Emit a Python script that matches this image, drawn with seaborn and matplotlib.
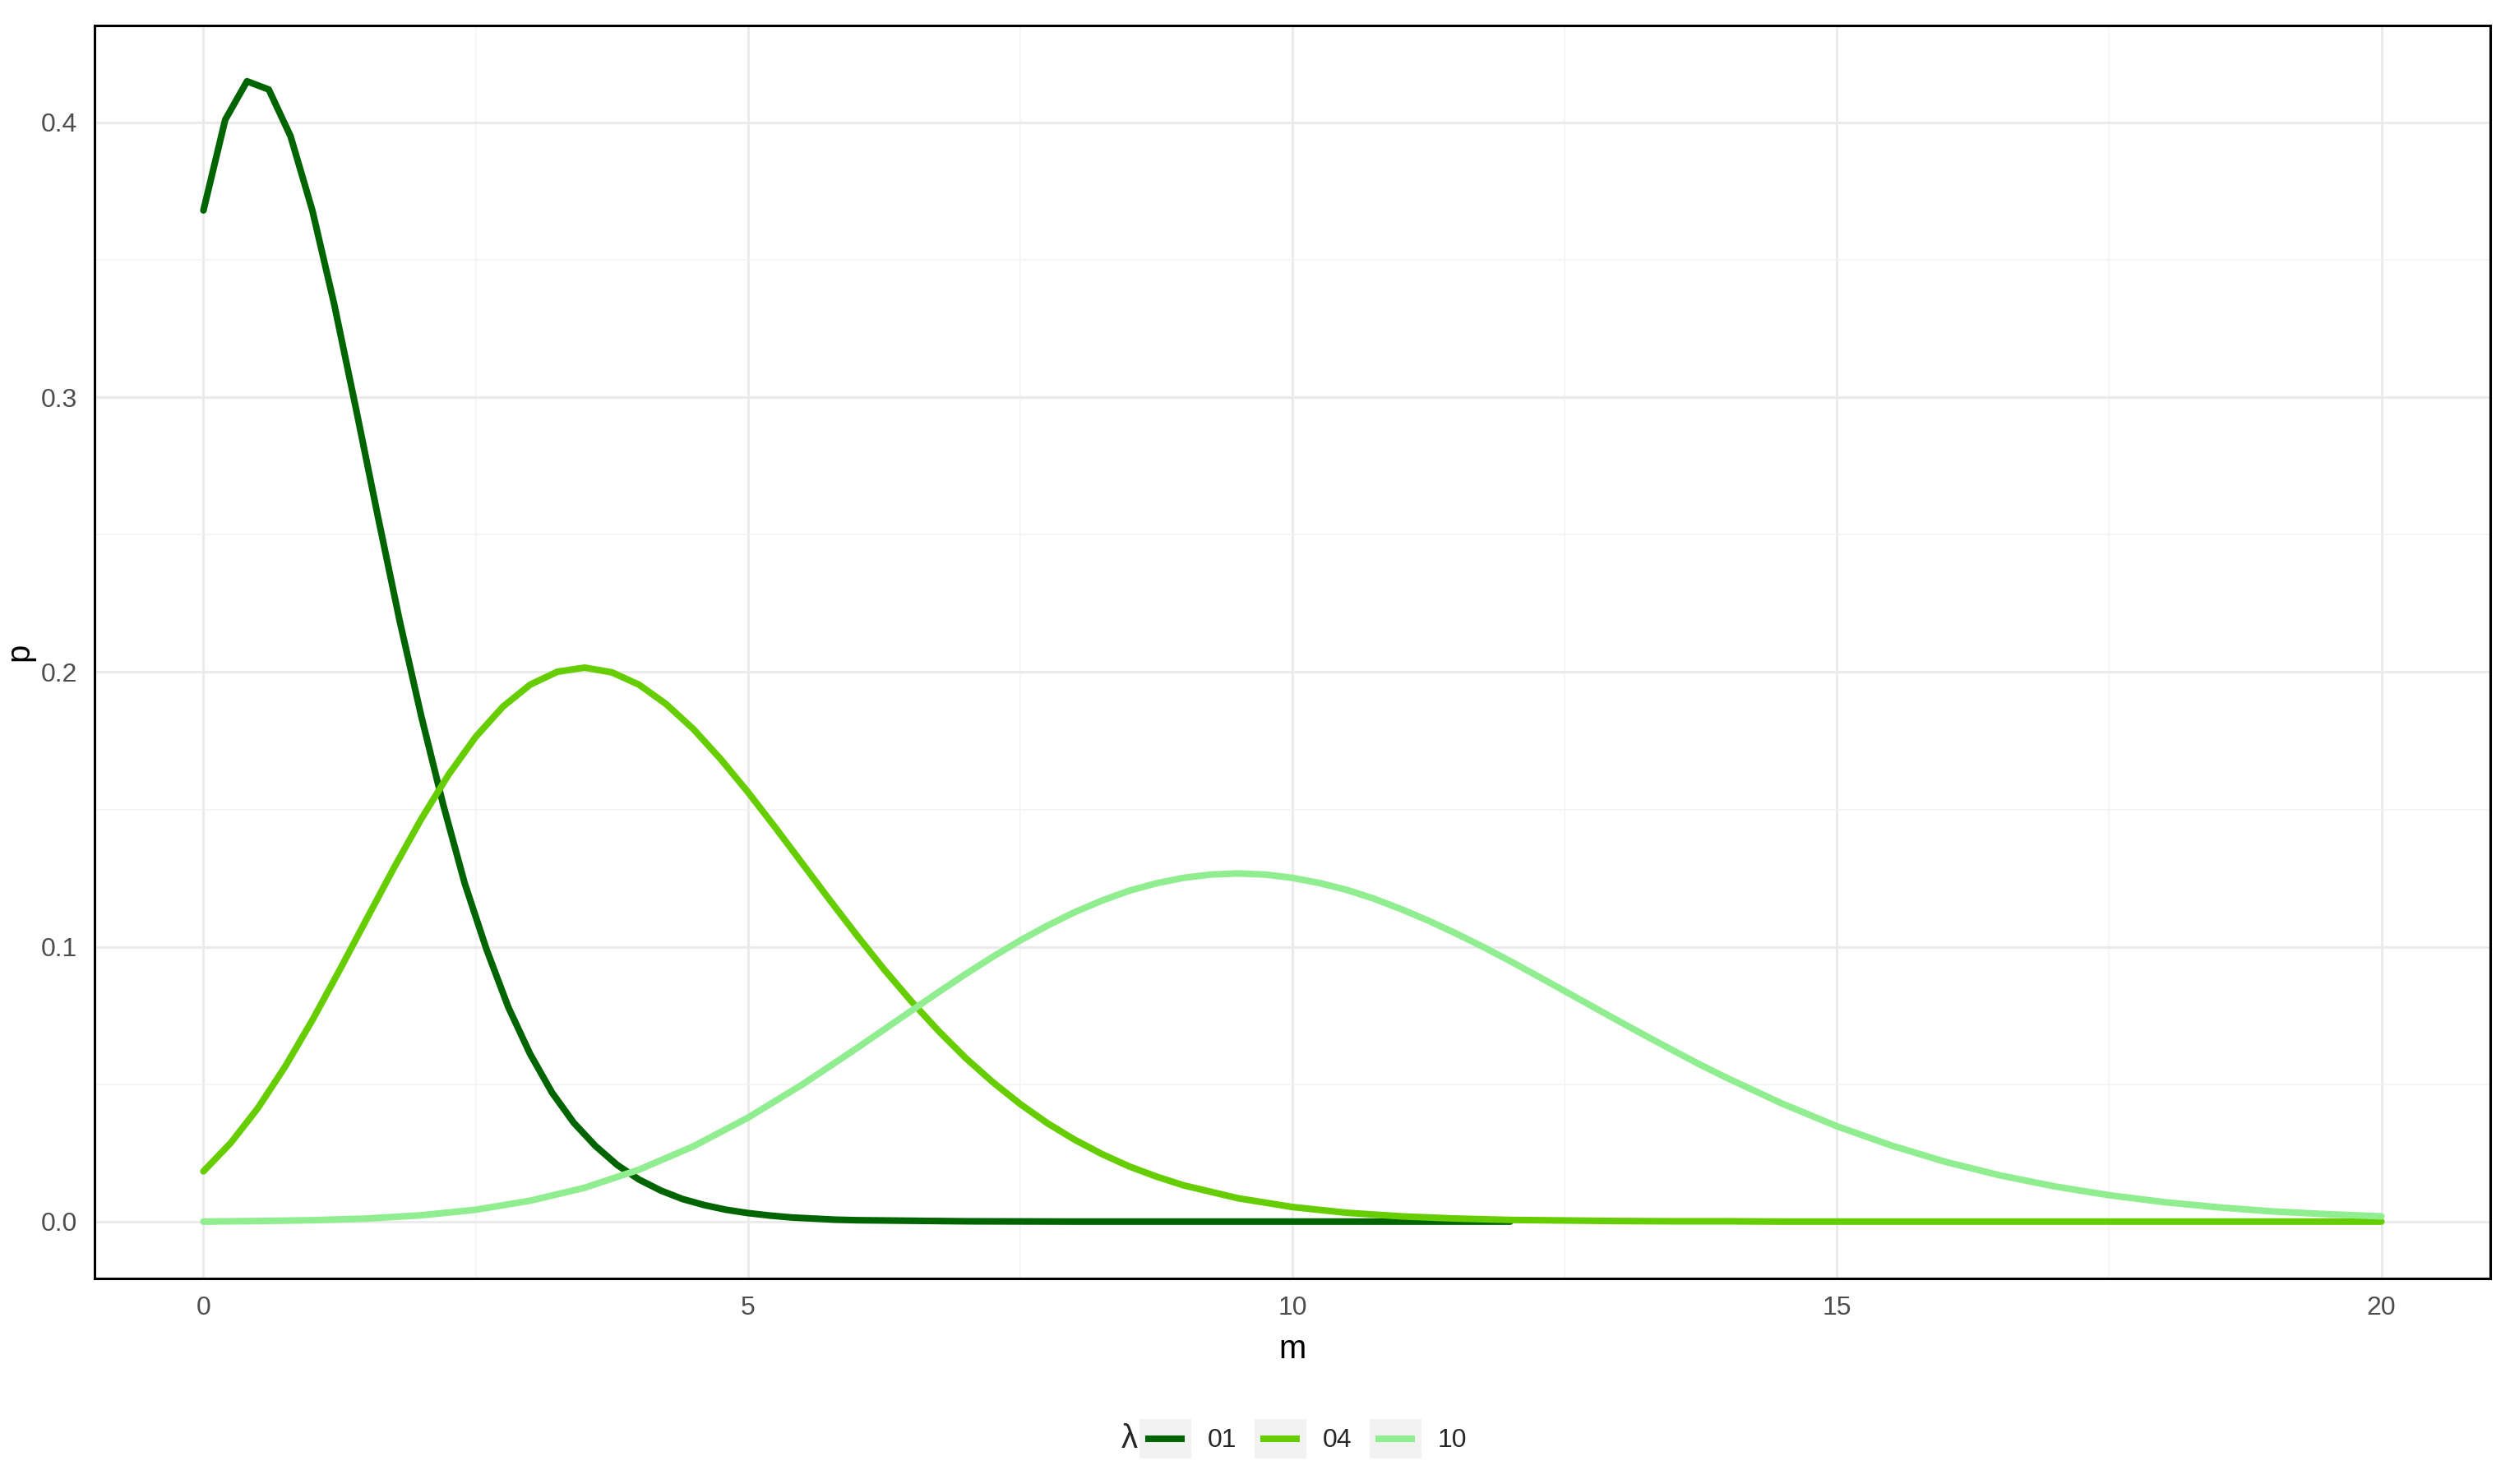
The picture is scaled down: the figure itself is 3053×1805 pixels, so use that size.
import numpy as np
import pandas as pd
import matplotlib
matplotlib.use("Agg")
import matplotlib.pyplot as plt
from matplotlib.lines import Line2D
from matplotlib.patches import Rectangle
from matplotlib.ticker import MultipleLocator
import seaborn as sns

# === Data ===
m_01 = [0, 0.2, 0.4, 0.6, 0.8, 1.0, 1.2, 1.4, 1.6, 1.8, 2.0, 2.2, 2.4, 2.6, 2.8, 3.0,
        3.2, 3.4, 3.6, 3.8, 4.0, 4.2, 4.4, 4.6, 4.8, 5.0, 5.2, 5.4, 5.6, 5.8, 6.0,
        7, 8, 9, 10, 11, 12]
p_01 = [0.368, 0.401, 0.415, 0.412, 0.395, 0.368, 0.334, 0.296, 0.257, 0.219, 0.184,
        0.152, 0.123, 0.099, 0.078, 0.061, 0.047, 0.036, 0.0275, 0.0206, 0.0153,
        0.0113, 0.0082, 0.0060, 0.0043, 0.0031, 0.0022, 0.0015, 0.0011, 0.0007, 0.0005,
        0.0001, 0.0, 0.0, 0.0, 0.0, 0.0]

m_04 = [0, 0.25, 0.5, 0.75, 1, 1.25, 1.5, 1.75, 2, 2.25, 2.5, 2.75, 3, 3.25, 3.5, 3.75,
        4, 4.25, 4.5, 4.75, 5, 5.25, 5.5, 5.75, 6, 6.25, 6.5, 6.75, 7, 7.25, 7.5, 7.75,
        8, 8.25, 8.5, 8.75, 9,
        9.5, 10, 10.5, 11, 11.5, 12, 12.5, 13, 13.5, 14, 14.5, 15, 15.5, 16, 16.5, 17,
        17.5, 18, 18.5, 19, 19.5, 20]
p_04 = [0.0183, 0.0286, 0.0413, 0.0564, 0.0733, 0.0915, 0.1102, 0.1288, 0.1465, 0.1626,
        0.1764, 0.1874, 0.1954, 0.2001, 0.2016, 0.1999, 0.1954, 0.1883, 0.1792, 0.1683,
        0.1563, 0.1435, 0.1303, 0.1171, 0.1042, 0.0918, 0.0802, 0.0694, 0.0595, 0.0507,
        0.0428, 0.0358, 0.0298, 0.0246, 0.0201, 0.0164, 0.0132,
        0.0085, 0.0053, 0.0032, 0.0019, 0.0011, 0.0006, 0.0004, 0.0002, 0.0001, 0.0001,
        0.0, 0.0, 0.0, 0.0, 0.0, 0.0, 0.0, 0.0, 0.0, 0.0, 0.0, 0.0]

m_10 = [0, 0.5, 1, 1.5, 2, 2.5, 3, 3.5, 4, 4.5, 5, 5.5, 6,
        6.25, 6.5, 6.75, 7, 7.25, 7.5, 7.75, 8, 8.25, 8.5, 8.75, 9, 9.25, 9.5, 9.75, 10,
        10.25, 10.5, 10.75, 11, 11.25, 11.5, 11.75, 12, 12.25, 12.5, 12.75, 13, 13.25,
        13.5, 13.75, 14,
        14.5, 15, 15.5, 16, 16.5, 17, 17.5, 18, 18.5, 19, 19.5, 20]
p_10 = [0.0000, 0.0002, 0.0005, 0.0011, 0.0023, 0.0043, 0.0076, 0.0123, 0.0189, 0.0274,
        0.0378, 0.0499, 0.0631,
        0.0699, 0.0767, 0.0835, 0.0901, 0.0964, 0.1023, 0.1077, 0.1126, 0.1168, 0.1204,
        0.1231, 0.1251, 0.1263, 0.1267, 0.1263, 0.1251, 0.1232, 0.1207, 0.1175, 0.1137,
        0.1095, 0.1049, 0.1000, 0.0948, 0.0894, 0.0839, 0.0784, 0.0729, 0.0675, 0.0622,
        0.0570, 0.0521,
        0.0429, 0.0347, 0.0277, 0.0217, 0.0168, 0.0128, 0.0096, 0.0071, 0.0052, 0.0037,
        0.0027, 0.0019]

lam_labels = ["01", "04", "10"]
lam_colors = ["#006400", "#66CD00", "#90EE90"]

df = pd.concat([
    pd.DataFrame({"m": m_01, "p": p_01, "lam": "01"}),
    pd.DataFrame({"m": m_04, "p": p_04, "lam": "04"}),
    pd.DataFrame({"m": m_10, "p": p_10, "lam": "10"}),
], ignore_index=True)

# === Style ===
sns.set_style("white")
plt.rcParams["font.family"] = ["Liberation Sans", "DejaVu Sans"]

W, H = 3053, 1805
dpi = 200
fig = plt.figure(figsize=(W / dpi, H / dpi), dpi=dpi)
ax = fig.add_axes([115 / W, 1 - 1555 / H, (3029 - 115) / W, (1555 - 31) / H])

line_w = 2.9
sns.lineplot(data=df, x="m", y="p", hue="lam", hue_order=lam_labels,
             palette=dict(zip(lam_labels, lam_colors)), estimator=None, sort=False,
             linewidth=line_w, legend=False, ax=ax, zorder=3)

# === Axes ===
ax.set_xlim(-1, 21)
ax.set_ylim(-0.0207, 0.4353)
ax.xaxis.set_major_locator(MultipleLocator(5))
ax.xaxis.set_minor_locator(MultipleLocator(2.5))
ax.yaxis.set_major_locator(MultipleLocator(0.1))
ax.yaxis.set_minor_locator(MultipleLocator(0.05))
ax.set_yticks([0.0, 0.1, 0.2, 0.3, 0.4])
ax.set_yticklabels(["0.0", "0.1", "0.2", "0.3", "0.4"])

ax.grid(which="major", color="#EBEBEB", linewidth=1.1, zorder=0)
ax.grid(which="minor", color="#F2F2F2", linewidth=0.55, zorder=0)
ax.set_axisbelow(True)
for s in ax.spines.values():
    s.set_color("black")
    s.set_linewidth(1.1)

ax.tick_params(which="major", length=4, width=0.8, color="#333333",
               labelsize=11.5, labelcolor="#4D4D4D", pad=3.5)
ax.tick_params(which="minor", length=0)

ax.set_xlabel("m", fontsize=14.4, color="black", labelpad=6)
ax.set_ylabel("p", fontsize=14.4, color="black")
ax.yaxis.set_label_coords(-0.025, 0.5)


# === Legend (grey key boxes like ggplot) ===
class KeyHandler:
    def legend_artist(self, legend, orig_handle, fontsize, handlebox):
        x0, y0 = -handlebox.xdescent, -handlebox.ydescent
        w, h = handlebox.width, handlebox.height
        bg = Rectangle((x0, y0), w, h, facecolor="#F2F2F2", edgecolor="none",
                       transform=handlebox.get_transform())
        ln = Line2D([x0 + 0.12 * w, x0 + 0.88 * w], [y0 + h / 2, y0 + h / 2],
                    color=orig_handle.get_color(), linewidth=orig_handle.get_linewidth(),
                    solid_capstyle="butt", transform=handlebox.get_transform())
        handlebox.add_artist(bg)
        handlebox.add_artist(ln)
        return ln


handles = [Line2D([], [], color=c, linewidth=line_w) for c in lam_colors]
fig.legend(handles, lam_labels, loc="center", bbox_to_anchor=(1585 / W, 1 - 1750 / H),
           ncol=3, frameon=False, fontsize=11.5, handlelength=1.97, handleheight=1.94,
           handletextpad=0.62, columnspacing=0.68, borderpad=0,
           handler_map={Line2D: KeyHandler()})
fig.text(1384 / W, 1 - 1750 / H, "λ", ha="right", va="center", fontsize=14.4)

fig.savefig("out.png", dpi=dpi)
